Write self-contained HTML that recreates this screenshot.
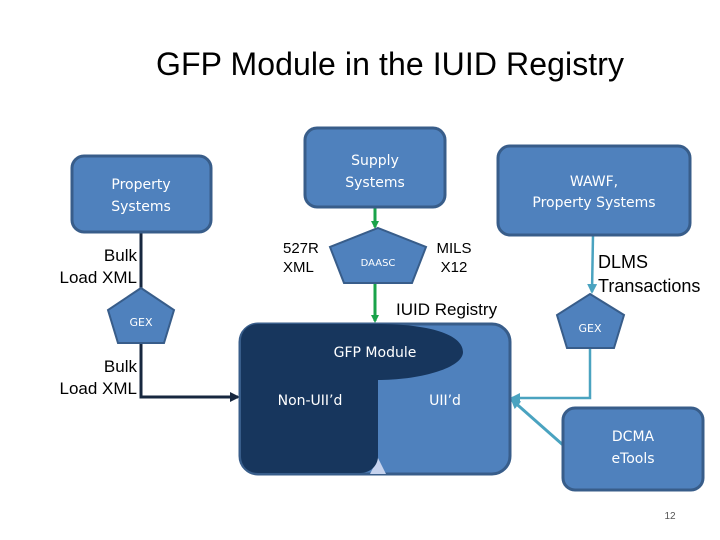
<!DOCTYPE html>
<html><head><style>
body{margin:0;width:720px;height:540px;background:#fff;overflow:hidden}
svg{display:block}
.c{font-family:"DejaVu Sans","Liberation Sans",sans-serif;fill:#fff}
.a{font-family:"Liberation Sans",sans-serif;fill:#000}
</style></head><body>
<svg width="720" height="540" viewBox="0 0 720 540">
<defs>
<marker id="g" markerWidth="8" markerHeight="8" refX="6" refY="4" orient="auto" markerUnits="userSpaceOnUse"><path d="M0,0 L8,4 L0,8 Z" fill="#1aa34a"/></marker>
<marker id="t" markerWidth="10" markerHeight="10" refX="8" refY="5" orient="auto" markerUnits="userSpaceOnUse"><path d="M0,0 L10,5 L0,10 Z" fill="#4aa3c0"/></marker>
<marker id="d" markerWidth="10" markerHeight="10" refX="8" refY="5" orient="auto" markerUnits="userSpaceOnUse"><path d="M0,0 L10,5 L0,10 Z" fill="#17273f"/></marker>
</defs>
<text x="390" y="75" text-anchor="middle" font-family="Liberation Sans,sans-serif" font-size="32" fill="#000" textLength="468">GFP Module in the IUID Registry</text>

<!-- connectors -->
<path d="M141,232 V288 M141,343 V397 H238" stroke="#17273f" stroke-width="3" fill="none" marker-end="url(#d)"/>
<line x1="375" y1="207" x2="375" y2="227" stroke="#1aa34a" stroke-width="3" marker-end="url(#g)"/>
<line x1="375" y1="283" x2="375" y2="321" stroke="#1aa34a" stroke-width="3" marker-end="url(#g)"/>
<line x1="593" y1="235" x2="592" y2="292" stroke="#4aa3c0" stroke-width="2.5" marker-end="url(#t)"/>
<path d="M590,348 V398 H512" stroke="#4aa3c0" stroke-width="2.5" fill="none" marker-end="url(#t)"/>
<line x1="563" y1="445" x2="512" y2="400" stroke="#4aa3c0" stroke-width="3" marker-end="url(#t)"/>

<!-- boxes -->
<rect x="72" y="156" width="139" height="76" rx="12" fill="#4f81bd" stroke="#385d8a" stroke-width="3"/>
<text class="c" font-size="14" text-anchor="middle"><tspan x="141" y="189">Property</tspan><tspan x="141" y="211">Systems</tspan></text>
<rect x="305" y="128" width="140" height="79" rx="12" fill="#4f81bd" stroke="#385d8a" stroke-width="3"/>
<text class="c" font-size="14" text-anchor="middle"><tspan x="375" y="165">Supply</tspan><tspan x="375" y="187">Systems</tspan></text>
<rect x="498" y="146" width="192" height="89" rx="12" fill="#4f81bd" stroke="#385d8a" stroke-width="3"/>
<text class="c" font-size="14" text-anchor="middle"><tspan x="594" y="186">WAWF,</tspan><tspan x="594" y="207">Property Systems</tspan></text>
<rect x="563" y="408" width="140" height="82" rx="12" fill="#4f81bd" stroke="#385d8a" stroke-width="3"/>
<text class="c" font-size="14" text-anchor="middle"><tspan x="633" y="441">DCMA</tspan><tspan x="633" y="463">eTools</tspan></text>

<!-- pentagons -->
<polygon points="141,288 174,310 164,343 118,343 108,310" fill="#4f81bd" stroke="#385d8a" stroke-width="2"/>
<text class="c" x="141" y="326" font-size="11" text-anchor="middle">GEX</text>
<polygon points="378,228 426,247 412,283 344,283 330,247" fill="#4f81bd" stroke="#385d8a" stroke-width="2"/>
<text class="c" x="378" y="266" font-size="10" text-anchor="middle">DAASC</text>
<polygon points="590,294 624,315 614,348 567,348 557,315" fill="#4f81bd" stroke="#385d8a" stroke-width="2"/>
<text class="c" x="590" y="332" font-size="11" text-anchor="middle">GEX</text>

<!-- registry -->
<rect x="240" y="324" width="270" height="150" rx="18" fill="#4f81bd" stroke="#385d8a" stroke-width="3"/>
<polygon points="370,474 378,458 386,474" fill="#c6d3ee"/>
<path d="M258,324 H375 C440,324 463,338 463,352 C463,368 420,380 378,380 V456 C378,466 370,473 360,473 H258 C248,473 241,466 241,456 V341 C241,331 248,324 258,324 Z" fill="#17365d"/>
<text class="c" x="375" y="357" font-size="14" text-anchor="middle">GFP Module</text>
<text class="c" x="310" y="405" font-size="14" text-anchor="middle">Non-UII’d</text>
<text class="c" x="445" y="405" font-size="14" text-anchor="middle">UII’d</text>

<!-- labels -->
<text class="a" font-size="17" text-anchor="end"><tspan x="137" y="261">Bulk</tspan><tspan x="137" y="283">Load XML</tspan></text>
<text class="a" font-size="17" text-anchor="end"><tspan x="137" y="372">Bulk</tspan><tspan x="137" y="394">Load XML</tspan></text>
<text class="a" font-size="15"><tspan x="283" y="253">527R</tspan><tspan x="283" y="272">XML</tspan></text>
<text class="a" font-size="15" text-anchor="middle"><tspan x="454" y="253">MILS</tspan><tspan x="454" y="272">X12</tspan></text>
<text class="a" x="396" y="315" font-size="17">IUID Registry</text>
<text class="a" font-size="18"><tspan x="598" y="268">DLMS</tspan><tspan x="598" y="292">Transactions</tspan></text>
<text x="670" y="519" font-family="Liberation Sans,sans-serif" font-size="10" fill="#555" text-anchor="middle">12</text>
</svg>
</body></html>
